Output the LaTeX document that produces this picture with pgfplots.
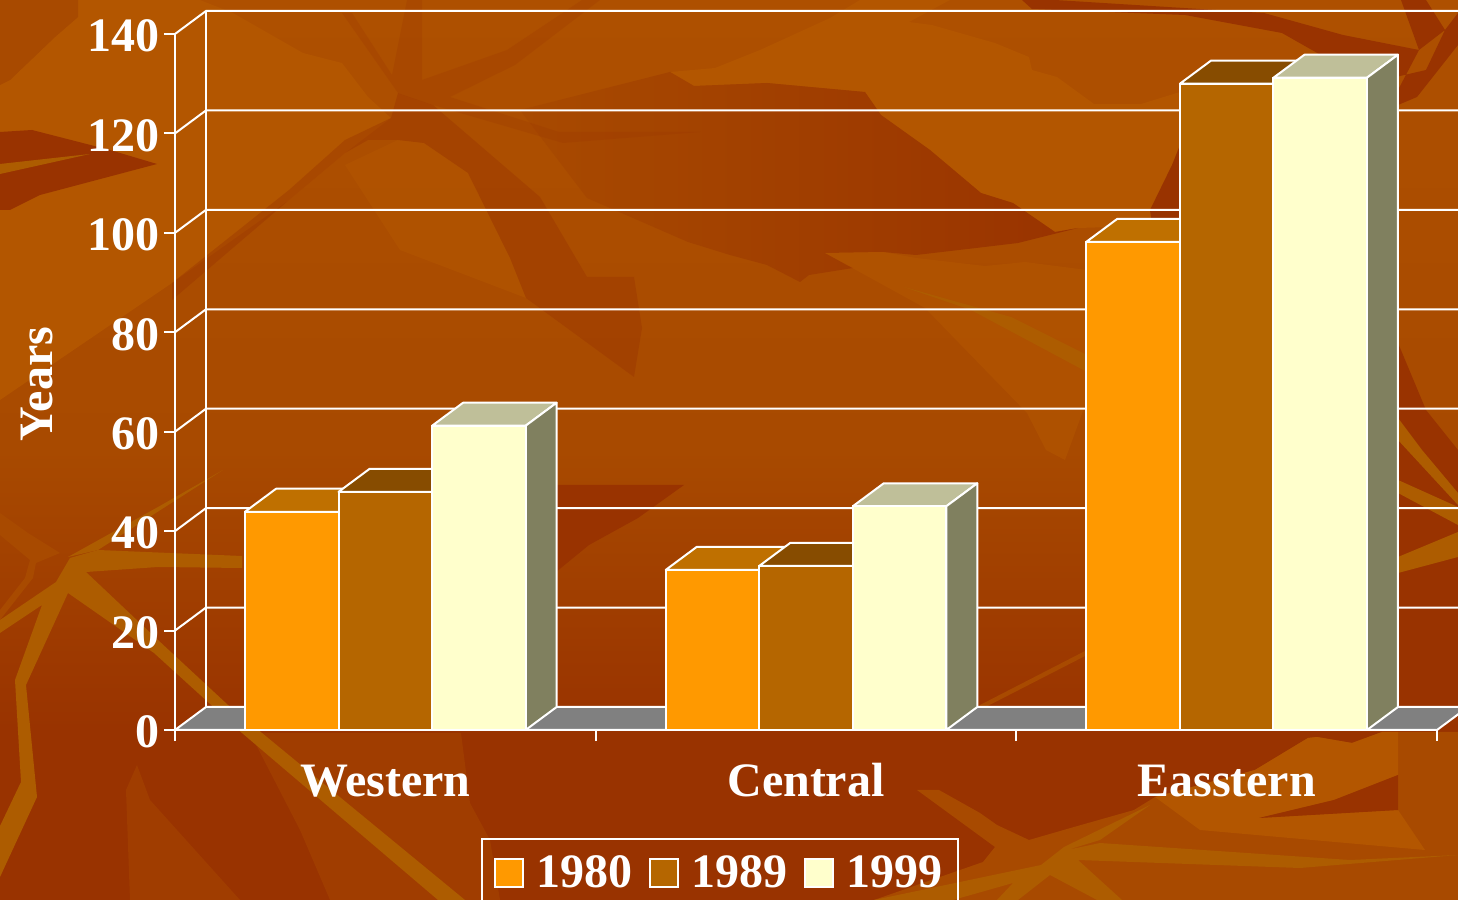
\documentclass[border=0pt]{standalone}
\usepackage{fontspec}
\setmainfont{Liberation Serif}
\usepackage{pgfplots}
\pgfplotsset{compat=1.18}
\definecolor{bgA}{HTML}{AE5000}
\definecolor{bgB}{HTML}{A84A00}
\definecolor{bgC}{HTML}{993300}
\definecolor{bgM}{HTML}{A03D00}
\definecolor{bgLight}{HTML}{B35600}
\definecolor{bgStrip}{HTML}{AD5C00}
\definecolor{barA}{HTML}{FF9900}
\definecolor{barB}{HTML}{B56600}
\definecolor{barC}{HTML}{FFFFCC}
\definecolor{topA}{HTML}{BF7000}
\definecolor{topB}{HTML}{874C00}
\definecolor{topC}{HTML}{BFBF99}
\definecolor{sideA}{HTML}{805000}
\definecolor{sideB}{HTML}{5A3300}
\definecolor{sideC}{HTML}{80805F}
\newcommand{\bgp}[2]{\fill[#1] plot coordinates {#2} -- cycle;}
\def\bardx{0.0737}
\def\bardy{4.63}
\def\barw{0.2223}
% top and side face of one bar: left x, value, top colour, side colour
\newcommand{\barfaces}[4]{%
  \pgfmathsetmacro\xa{#1}%
  \pgfmathsetmacro\xb{#1+\barw}%
  \pgfmathsetmacro\xc{#1+\barw+\bardx}%
  \pgfmathsetmacro\xd{#1+\bardx}%
  \pgfmathsetmacro\vd{#2+\bardy}%
  \addplot[forget plot,draw=white,line width=1pt,line join=round,fill=#3] coordinates {(\xa,#2)(\xb,#2)(\xc,\vd)(\xd,\vd)} -- cycle;
  \addplot[forget plot,draw=white,line width=1pt,line join=round,fill=#4] coordinates {(\xb,0)(\xc,\bardy)(\xc,\vd)(\xb,#2)} -- cycle;
}
% one gridline: along the side wall, then along the back wall
\newcommand{\gridrow}[1]{%
  \pgfmathsetmacro\vd{#1+\bardy}%
  \addplot[forget plot,white,line width=1pt] coordinates {(0,#1)(\bardx,\vd)(3.2,\vd)};
}
\begin{document}
\begin{tikzpicture}
\useasboundingbox (0,0) rectangle (729pt,450pt);
\clip (0,0) rectangle (729pt,450pt);
% textured slide background, in pixels of the reference
\shade[top color=bgA,bottom color=bgB] (0,225pt) rectangle (729pt,450pt);
\shade[top color=bgB,bottom color=bgC] (0,85pt) rectangle (729pt,225.2pt);
\fill[bgC] (0,0) rectangle (729pt,85.2pt);
\begin{scope}[x=0.5pt,y=-0.5pt,yshift=450pt]
\bgp{bgLight}{(0,85)(10,80)(55,37)(78,17)(78,0)(200,0)(233,13)(303,53)(342,63)(368,97)(391,118)(345,153)(289,200)(172,283)(0,400)}
\bgp{bgLight,opacity=0.6}{(345,165)(398,140)(424,143)(468,173)(510,258)(526,298)(400,250)}
\bgp{bgB}{(0,0)(78,0)(78,17)(55,37)(10,80)(0,85)}
\bgp{bgC}{(0,132)(32,130)(110,150)(157,164)(40,195)(10,210)(0,210)}
\bgp{bgStrip}{(0,164)(90,154)(0,174)}
\bgp{bgLight}{(670,72)(715,68)(730,62)(760,50)(830,18)(860,0)(950,0)(909,22)(932,25)(995,43)(1029,57)(1032,70)(1057,77)(1094,104)(1141,104)(1180,92)(1180,225)(1078,228)(1055,232)(1013,203)(981,193)(930,150)(881,115)(865,92)(767,83)(694,86)}
\shade[left color=bgB,middle color=bgC,right color=bgC] plot coordinates {(587,198)(688,242)(730,255)(767,265)(800,282)(809,275)(853,268)(825,253)(883,252)(916,255)(976,248)(1018,243)(1078,228)(1055,232)(1013,203)(981,193)(930,150)(881,115)(865,92)(767,83)(694,86)(670,72)(520,110)} -- cycle;
\bgp{bgLight,opacity=0.6}{(825,253)(883,252)(916,258)(985,266)(1025,262)(1087,270)(1087,400)(1065,460)(1046,450)(1027,413)(925,308)}
\bgp{bgStrip}{(904,287)(1011,317)(1087,355)(1087,372)(971,310)}
\bgp{bgC}{(1180,145)(1172,165)(1150,210)(1152,225)(1180,225)}
\bgp{bgC,opacity=0.4}{(398,93)(433,105)(540,197)(587,277)(634,277)(642,328)(634,377)(526,298)(510,258)(468,173)(424,143)(398,140)(368,140)(345,153)(289,200)(172,300)(172,283)(289,190)(345,140)(391,118)}
\bgp{bgC,opacity=0.22}{(407,0)(422,0)(422,80)(507,50)(582,0)(600,0)(515,65)(450,97)(559,132)(700,132)(563,143)(433,105)(398,93)(342,13)(352,13)(392,75)}
% top right branches
\bgp{bgC}{(1022,0)(1032,9)(1185,15)(1282,33)(1370,83)(1426,70)(1445,30)(1458,13)(1458,45)(1417,97)(1398,105)(1398,90)(1419,50)(1401,0)(1426,0)(1445,30)(1419,50)(1343,35)(1264,13)(1055,0)}
\bgp{bgC}{(1398,343)(1426,410)(1458,450)(1458,720)(1398,720)}
\bgp{bgStrip}{(1398,418)(1422,450)(1458,493)(1458,505)(1398,440)}
\bgp{bgStrip}{(1398,480)(1458,507)(1458,525)(1398,493)}
\bgp{bgStrip}{(1398,557)(1458,532)(1458,557)(1398,573)}
\bgp{bgB}{(1087,655)(970,715)(980,705)(1087,650)}
% bottom left star
\bgp{bgB}{(0,513)(28,533)(60,553)(36,563)(33,578)(0,620)(0,610)(25,578)(30,560)(0,535)}
\bgp{bgM}{(126,790)(137,765)(150,800)(240,900)(130,900)}
\bgp{bgM}{(250,733)(461,733)(470,803)(490,840)(500,900)(330,900)(300,830)}
\bgp{bgStrip}{(70,558)(98,550)(242,556)(242,568)(158,567)(86,572)(158,640)(228,705)(465,900)(438,900)(242,733)(154,653)(68,593)(26,685)(37,797)(0,877)(0,826)(21,782)(15,680)(42,605)(0,633)(0,620)(56,582)}
\bgp{bgStrip}{(98,550)(223,470)(158,507)(68,557)}
\bgp{bgC}{(556,485)(684,485)(638,518)(589,545)(556,572)}
% bottom right
\bgp{bgB}{(917,790)(939,790)(980,813)(997,825)(1029,840)(1074,827)(1134,810)(1155,797)(1255,770)(1308,738)(1317,737)(1352,743)(1382,732)(1398,732)(1458,732)(1458,900)(874,900)(983,862)(995,847)}
\bgp{bgLight}{(1155,797)(1255,770)(1308,738)(1317,737)(1352,743)(1382,732)(1398,732)(1398,775)(1334,800)(1259,818)(1398,810)(1425,850)(1200,830)}
\bgp{bgC}{(1259,818)(1334,800)(1398,775)(1398,810)}
\bgp{bgStrip}{(1067,850)(1100,843)(1350,860)(1458,855)(1300,868)(1078,860)(1122,900)(1097,900)(1050,875)(1018,900)(997,900)(1013,883)(953,900)(874,900)(1041,865)(1064,847)(1150,805)(1100,840)}
\end{scope}
\begin{axis}[
    at={(87.5pt,85pt)}, anchor=south west,
    scale only axis, width=631pt, height=348pt,
    xmin=0, xmax=3, ymin=0, ymax=140,
    clip=false,
    axis lines*=left,
    axis line style={white,line width=1pt,-},
    tick style={white,line width=1pt},
    tick align=outside,
    major tick length=5.5pt,
    ytick={0,20,40,60,80,100,120,140},
    xtick={0,1,2,3},
    xticklabels={},
    extra x ticks={0.5,1.5,2.5},
    extra x tick labels={Western,Central,Easstern},
    extra x tick style={major tick length=0pt,tick label style={text height=16pt,text depth=0pt,yshift=-13.5pt}},
    tick label style={text=white,font=\fontsize{24}{24}\selectfont\bfseries},
    yticklabel style={xshift=1.5pt,yshift=-1pt},
    /pgf/number format/assume math mode=true,
    every axis y label/.style={at={(axis description cs:-0.1094,0.497)},rotate=90,anchor=center},
    ylabel={Years},
    label style={text=white,font=\fontsize{24}{24}\selectfont\bfseries},
    sq/.style={legend image code/.code={\draw[##1,line width=1pt] (0pt,-7pt) rectangle (14pt,7pt); \path[draw=none,fill=none] (0pt,0pt) -- (18.5pt,0pt);}},
    legend columns=3,
    legend style={at={(0.2425,-0.155)},anchor=north west,draw=white,fill=none,line width=1pt,
      text=white,font=\fontsize{24}{24}\selectfont\bfseries,inner xsep=6pt,inner ysep=6.5pt,
      /tikz/every even column/.append style={column sep=6.5pt}},
]
% floor
\addplot[forget plot,draw=white,line width=1pt,fill=gray] coordinates {(0,0)(3,0)(3.0737,4.63)(0.0737,4.63)} -- cycle;
% walls
\gridrow{20}\gridrow{40}\gridrow{60}\gridrow{80}\gridrow{100}\gridrow{120}\gridrow{140}
\addplot[forget plot,white,line width=1pt] coordinates {(0.0737,4.63)(0.0737,144.63)};
% 1980
\barfaces{0.1665}{43.9}{topA}{sideA}
\barfaces{1.1665}{32.2}{topA}{sideA}
\barfaces{2.1665}{98.2}{topA}{sideA}
\addplot[ybar,bar width=\barw,bar shift=-\barw,draw=white,line width=1pt,fill=barA,sq] coordinates {(0.5,43.9)(1.5,32.2)(2.5,98.2)};
\addlegendentry{1980}
% 1989
\barfaces{0.3888}{47.9}{topB}{sideB}
\barfaces{1.3888}{33}{topB}{sideB}
\barfaces{2.3888}{130}{topB}{sideB}
\addplot[ybar,bar width=\barw,bar shift=0,draw=white,line width=1pt,fill=barB,sq] coordinates {(0.5,47.9)(1.5,33)(2.5,130)};
\addlegendentry{1989}
% 1999
\barfaces{0.6112}{61.2}{topC}{sideC}
\barfaces{1.6112}{45}{topC}{sideC}
\barfaces{2.6112}{131.2}{topC}{sideC}
\addplot[ybar,bar width=\barw,bar shift=\barw,draw=white,line width=1pt,fill=barC,sq] coordinates {(0.5,61.2)(1.5,45)(2.5,131.2)};
\addlegendentry{1999}
\end{axis}
\end{tikzpicture}
\end{document}
